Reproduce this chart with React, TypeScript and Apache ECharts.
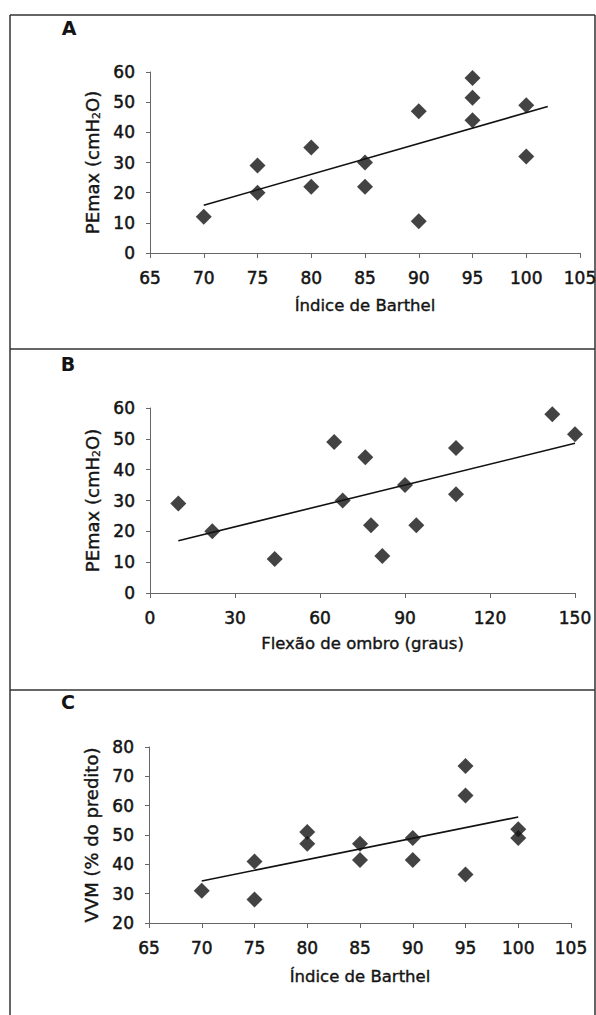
import React, { useEffect, useRef } from "react";
import * as echarts from "echarts";

// Panel A: Índice de Barthel vs PEmax
const barthelA = [70, 75, 75, 80, 80, 85, 85, 90, 90, 95, 95, 95, 100, 100];
const pemaxA = [12, 29, 20, 35, 22, 30, 22, 47, 10.5, 58, 51.5, 44, 49, 32];
const trendRangeA = [70, 102];

// Panel B: Flexão de ombro vs PEmax
const flexaoB = [10, 22, 44, 65, 68, 76, 78, 82, 90, 94, 108, 108, 142, 150];
const pemaxB = [29, 20, 11, 49, 30, 44, 22, 12, 35, 22, 47, 32, 58, 51.5];
const trendRangeB = [10, 150];

// Panel C: Índice de Barthel vs VVM
const barthelC = [70, 75, 75, 80, 80, 85, 85, 90, 90, 95, 95, 95, 100, 100];
const vvmC = [31, 41, 28, 51, 47, 47, 41.5, 49, 41.5, 73.5, 63.5, 36.5, 52, 49];
const trendRangeC = [70, 100];

const panelLabels = ["A", "B", "C"];
const xTitles = ["Índice de Barthel", "Flexão de ombro (graus)", "Índice de Barthel"];
const yTitles = ["PEmax (cmH{sub|2}O)", "PEmax (cmH{sub|2}O)", "VVM (% do predito)"];
const xAxisRanges = [
  [65, 105, 5],
  [0, 150, 30],
  [65, 105, 5],
];
const yAxisRanges = [
  [0, 60, 10],
  [0, 60, 10],
  [20, 80, 10],
];

function fit(xs: number[], ys: number[]) {
  const n = xs.length;
  const mx = xs.reduce((a, b) => a + b, 0) / n;
  const my = ys.reduce((a, b) => a + b, 0) / n;
  let sxx = 0;
  let sxy = 0;
  for (let i = 0; i < n; i++) {
    sxx += (xs[i] - mx) * (xs[i] - mx);
    sxy += (xs[i] - mx) * (ys[i] - my);
  }
  const b = sxy / sxx;
  const a = my - b * mx;
  return (x: number) => a + b * x;
}

const FONT = "DejaVu Sans";
const TEXT = "#141414";
const AXIS = "#666666";
const THICK = { textBorderColor: TEXT, textBorderWidth: 0.5 };

export default function App() {
  const ref = useRef<HTMLDivElement>(null);

  useEffect(() => {
    if (!ref.current) return;
    const chart = echarts.init(ref.current, null, { renderer: "svg" });

    const panels = [
      { xs: barthelA, ys: pemaxA, tr: trendRangeA },
      { xs: flexaoB, ys: pemaxB, tr: trendRangeB },
      { xs: barthelC, ys: vvmC, tr: trendRangeC },
    ];

    const grids = [
      { left: 150, top: 72, width: 430, height: 181 },
      { left: 150, top: 408, width: 425, height: 185 },
      { left: 149, top: 747, width: 422, height: 176 },
    ];
    const xNameGaps = [44, 42, 45];

    const xAxis = xAxisRanges.map((r, i) => ({
      type: "value",
      gridIndex: i,
      min: r[0],
      max: r[1],
      interval: r[2],
      name: xTitles[i],
      nameLocation: "middle",
      nameGap: xNameGaps[i],
      nameTextStyle: { fontFamily: FONT, fontSize: 16.5, color: TEXT, ...THICK, textBorderWidth: 0.4 },
      axisLine: { show: true, onZero: false, lineStyle: { color: AXIS, width: 1 } },
      axisTick: { show: true, inside: false, length: 5, lineStyle: { color: AXIS } },
      axisLabel: { margin: 16, fontFamily: FONT, fontSize: 17, color: TEXT, ...THICK },
      splitLine: { show: false },
    }));

    const yAxis = yAxisRanges.map((r, i) => ({
      type: "value",
      gridIndex: i,
      min: r[0],
      max: r[1],
      interval: r[2],
      name: yTitles[i],
      nameLocation: "middle",
      nameRotate: 90,
      nameGap: 35,
      nameTextStyle: {
        fontFamily: FONT,
        fontSize: 18,
        color: TEXT,
        lineHeight: 20,
        ...THICK,
        textBorderWidth: 0.4,
        rich: {
          sub: {
            fontFamily: FONT,
            fontSize: 11,
            color: TEXT,
            lineHeight: 11,
            verticalAlign: "bottom",
            textBorderColor: TEXT,
            textBorderWidth: 0.3,
          },
        },
      },
      axisLine: { show: true, onZero: false, lineStyle: { color: AXIS, width: 1 } },
      axisTick: { show: true, inside: false, length: 4, lineStyle: { color: AXIS } },
      axisLabel: { margin: 15, fontFamily: FONT, fontSize: 17, color: TEXT, ...THICK },
      splitLine: { show: false },
    }));

    const series: any[] = [];
    panels.forEach((p, i) => {
      series.push({
        type: "scatter",
        xAxisIndex: i,
        yAxisIndex: i,
        symbol: "diamond",
        symbolSize: [16, 16],
        clip: false,
        itemStyle: { color: "#141414" },
        data: p.xs.map((x, k) => [x, p.ys[k]]),
        z: 3,
      });
      const f = fit(p.xs, p.ys);
      series.push({
        type: "line",
        xAxisIndex: i,
        yAxisIndex: i,
        symbol: "none",
        clip: false,
        lineStyle: { color: "#111", width: 1.6 },
        data: p.tr.map((x) => [x, f(x)]),
        z: 2,
      });
    });

    const labelPos = [
      [69, 28],
      [68, 364],
      [68, 702],
    ];

    const graphic: any[] = [
      { type: "line", shape: { x1: 10, y1: 15, x2: 595, y2: 15 }, style: { stroke: "#333", lineWidth: 1.5 } },
      { type: "line", shape: { x1: 10, y1: 349, x2: 595, y2: 349 }, style: { stroke: "#333", lineWidth: 1.5 } },
      { type: "line", shape: { x1: 10, y1: 690, x2: 595, y2: 690 }, style: { stroke: "#333", lineWidth: 1.5 } },
      { type: "line", shape: { x1: 10, y1: 15, x2: 10, y2: 1015 }, style: { stroke: "#333", lineWidth: 1.5 } },
      { type: "line", shape: { x1: 595, y1: 15, x2: 595, y2: 1015 }, style: { stroke: "#333", lineWidth: 1.5 } },
      ...panelLabels.map((t, i) => ({
        type: "text",
        x: labelPos[i][0],
        y: labelPos[i][1],
        style: {
          text: t,
          fontFamily: FONT,
          fontWeight: "bold",
          fontSize: 19,
          fill: TEXT,
          align: "center",
          verticalAlign: "middle",
        },
      })),
    ];

    chart.setOption({
      animation: false,
      backgroundColor: "#ffffff",
      grid: grids.map((g) => ({ ...g, containLabel: false, outerBoundsMode: "none" })),
      xAxis,
      yAxis,
      series,
      graphic,
    });

    return () => chart.dispose();
  }, []);

  return (
    <div
      ref={ref}
      style={{ position: "absolute", left: 0, top: 0, width: 596, height: 1015, background: "#fff" }}
    />
  );
}
